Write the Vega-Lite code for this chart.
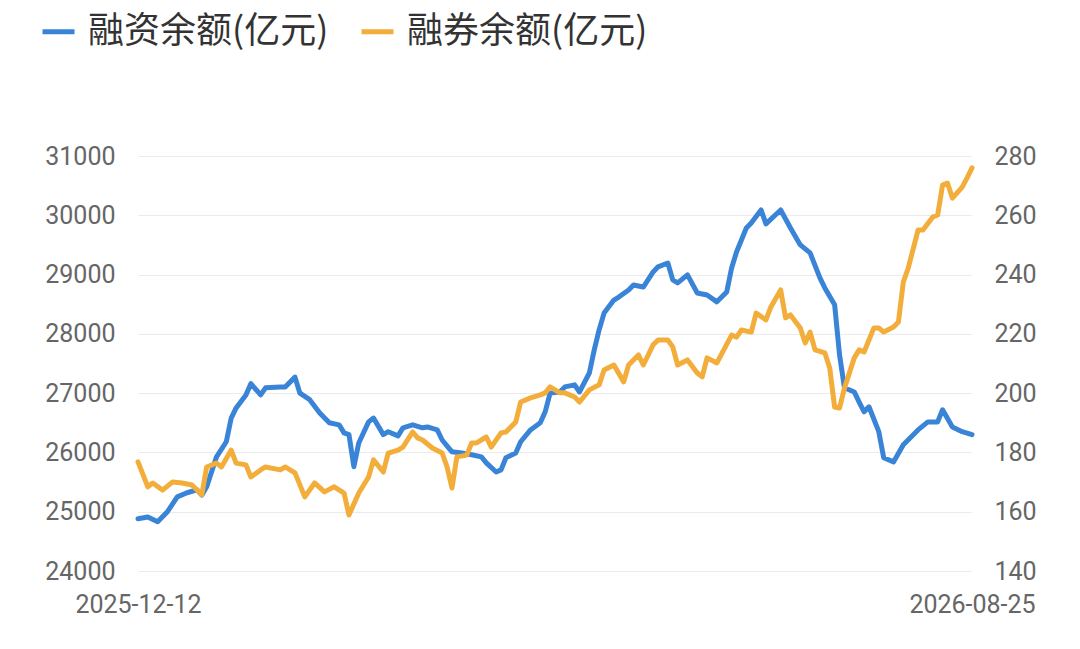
{
  "$schema": "https://vega.github.io/schema/vega-lite/v6.json",
  "width": 834,
  "height": 415,
  "autosize": {"type": "none"},
  "padding": {"left": 138, "top": 156, "right": 108, "bottom": 78},
  "background": "white",
  "config": {
    "view": {"stroke": null},
    "font": "Noto Sans CJK SC",
    "axis": {"labelFont": "Roboto", "labelFontSize": 25, "labelColor": "#666666", "domain": false, "ticks": false, "title": null, "gridColor": "#ebebeb", "gridWidth": 1.2}
  },
  "datasets": {
    "rz": [
      {"t": 0, "v": 24880}, {"t": 2, "v": 24910}, {"t": 4, "v": 24830}, {"t": 6, "v": 25000}, {"t": 8, "v": 25250},
      {"t": 10, "v": 25320}, {"t": 12, "v": 25370}, {"t": 13, "v": 25280}, {"t": 14, "v": 25420}, {"t": 16, "v": 25925},
      {"t": 18, "v": 26180}, {"t": 19, "v": 26580}, {"t": 20, "v": 26750}, {"t": 22, "v": 26970}, {"t": 23, "v": 27160},
      {"t": 25, "v": 26970}, {"t": 26, "v": 27090}, {"t": 29, "v": 27105}, {"t": 30, "v": 27105}, {"t": 32, "v": 27270},
      {"t": 33, "v": 27000}, {"t": 35, "v": 26890}, {"t": 37, "v": 26670}, {"t": 39, "v": 26500}, {"t": 41, "v": 26465},
      {"t": 42, "v": 26330}, {"t": 43, "v": 26300}, {"t": 44, "v": 25760}, {"t": 45, "v": 26160}, {"t": 47, "v": 26515},
      {"t": 48, "v": 26580}, {"t": 50, "v": 26300}, {"t": 51, "v": 26350}, {"t": 53, "v": 26280}, {"t": 54, "v": 26415},
      {"t": 56, "v": 26465}, {"t": 58, "v": 26415}, {"t": 59, "v": 26430}, {"t": 61, "v": 26380}, {"t": 62, "v": 26210},
      {"t": 64, "v": 26010}, {"t": 66, "v": 25990}, {"t": 68, "v": 25960}, {"t": 70, "v": 25925}, {"t": 71, "v": 25825},
      {"t": 73, "v": 25670}, {"t": 74, "v": 25705}, {"t": 75, "v": 25910}, {"t": 77, "v": 25990}, {"t": 78, "v": 26180},
      {"t": 80, "v": 26380}, {"t": 82, "v": 26500}, {"t": 83, "v": 26685}, {"t": 84, "v": 27000}, {"t": 86, "v": 27020},
      {"t": 87, "v": 27105}, {"t": 89, "v": 27140}, {"t": 90, "v": 27020}, {"t": 92, "v": 27340}, {"t": 93, "v": 27730},
      {"t": 94, "v": 28070}, {"t": 95, "v": 28350}, {"t": 97, "v": 28570}, {"t": 98, "v": 28620}, {"t": 100, "v": 28740},
      {"t": 101, "v": 28825}, {"t": 103, "v": 28790}, {"t": 105, "v": 29045}, {"t": 106, "v": 29130}, {"t": 108, "v": 29195},
      {"t": 109, "v": 28910}, {"t": 110, "v": 28860}, {"t": 112, "v": 28995}, {"t": 114, "v": 28690}, {"t": 116, "v": 28655},
      {"t": 118, "v": 28540}, {"t": 120, "v": 28705}, {"t": 121, "v": 29110}, {"t": 122, "v": 29380}, {"t": 124, "v": 29785},
      {"t": 125, "v": 29870}, {"t": 127, "v": 30090}, {"t": 128, "v": 29855}, {"t": 131, "v": 30090}, {"t": 133, "v": 29785},
      {"t": 135, "v": 29500}, {"t": 137, "v": 29365}, {"t": 139, "v": 28945}, {"t": 140, "v": 28775}, {"t": 142, "v": 28490},
      {"t": 143, "v": 27645}, {"t": 144, "v": 27090}, {"t": 146, "v": 27020}, {"t": 147, "v": 26850}, {"t": 148, "v": 26685},
      {"t": 149, "v": 26770}, {"t": 151, "v": 26350}, {"t": 152, "v": 25910}, {"t": 154, "v": 25840}, {"t": 156, "v": 26130},
      {"t": 159, "v": 26380}, {"t": 161, "v": 26515}, {"t": 163, "v": 26515}, {"t": 164, "v": 26720}, {"t": 166, "v": 26430},
      {"t": 168, "v": 26350}, {"t": 170, "v": 26300}
    ],
    "rq": [
      {"t": 0, "v": 176.8}, {"t": 2, "v": 168.4}, {"t": 3, "v": 169.7}, {"t": 5, "v": 167.3}, {"t": 7, "v": 170.0},
      {"t": 9, "v": 169.7}, {"t": 11, "v": 169.0}, {"t": 13, "v": 165.7}, {"t": 14, "v": 175.1}, {"t": 16, "v": 176.4},
      {"t": 17, "v": 175.1}, {"t": 19, "v": 180.8}, {"t": 20, "v": 176.4}, {"t": 22, "v": 175.8}, {"t": 23, "v": 171.7},
      {"t": 25, "v": 174.1}, {"t": 26, "v": 175.1}, {"t": 29, "v": 174.1}, {"t": 30, "v": 175.1}, {"t": 32, "v": 173.1},
      {"t": 34, "v": 165.0}, {"t": 36, "v": 169.7}, {"t": 38, "v": 166.7}, {"t": 40, "v": 168.4}, {"t": 42, "v": 166.3},
      {"t": 43, "v": 158.9}, {"t": 45, "v": 166.3}, {"t": 47, "v": 171.7}, {"t": 48, "v": 177.5}, {"t": 50, "v": 173.4},
      {"t": 51, "v": 179.8}, {"t": 53, "v": 180.8}, {"t": 54, "v": 181.8}, {"t": 56, "v": 186.9}, {"t": 57, "v": 184.9},
      {"t": 58, "v": 184.2}, {"t": 60, "v": 181.5}, {"t": 62, "v": 179.8}, {"t": 63, "v": 175.1}, {"t": 64, "v": 168.0},
      {"t": 65, "v": 178.5}, {"t": 67, "v": 179.1}, {"t": 68, "v": 183.2}, {"t": 69, "v": 183.2}, {"t": 71, "v": 185.2},
      {"t": 72, "v": 181.8}, {"t": 74, "v": 186.6}, {"t": 75, "v": 186.9}, {"t": 77, "v": 190.3}, {"t": 78, "v": 197.0},
      {"t": 80, "v": 198.4}, {"t": 82, "v": 199.4}, {"t": 83, "v": 200.1}, {"t": 84, "v": 202.1}, {"t": 86, "v": 200.1},
      {"t": 87, "v": 200.1}, {"t": 89, "v": 198.7}, {"t": 90, "v": 197.0}, {"t": 92, "v": 201.1}, {"t": 94, "v": 202.8},
      {"t": 95, "v": 207.8}, {"t": 97, "v": 209.5}, {"t": 99, "v": 203.8}, {"t": 100, "v": 209.5}, {"t": 102, "v": 212.9},
      {"t": 103, "v": 209.5}, {"t": 105, "v": 216.3}, {"t": 106, "v": 217.9}, {"t": 108, "v": 217.9}, {"t": 109, "v": 215.6},
      {"t": 110, "v": 209.5}, {"t": 112, "v": 211.2}, {"t": 114, "v": 206.8}, {"t": 115, "v": 205.5}, {"t": 116, "v": 211.9},
      {"t": 118, "v": 210.2}, {"t": 121, "v": 219.6}, {"t": 122, "v": 218.9}, {"t": 123, "v": 221.3}, {"t": 125, "v": 220.6},
      {"t": 126, "v": 227.0}, {"t": 128, "v": 224.7}, {"t": 129, "v": 229.1}, {"t": 131, "v": 234.8}, {"t": 132, "v": 225.4},
      {"t": 133, "v": 226.4}, {"t": 135, "v": 222.0}, {"t": 136, "v": 216.9}, {"t": 137, "v": 220.6}, {"t": 138, "v": 214.6},
      {"t": 140, "v": 213.6}, {"t": 141, "v": 208.5}, {"t": 142, "v": 195.3}, {"t": 143, "v": 195.0}, {"t": 144, "v": 201.7},
      {"t": 146, "v": 211.9}, {"t": 147, "v": 214.6}, {"t": 148, "v": 213.9}, {"t": 150, "v": 222.0}, {"t": 151, "v": 222.0},
      {"t": 152, "v": 220.6}, {"t": 154, "v": 222.3}, {"t": 155, "v": 224.0}, {"t": 156, "v": 237.5}, {"t": 157, "v": 242.2},
      {"t": 159, "v": 255.0}, {"t": 160, "v": 255.0}, {"t": 162, "v": 259.4}, {"t": 163, "v": 260.1}, {"t": 164, "v": 270.2},
      {"t": 165, "v": 270.9}, {"t": 166, "v": 265.8}, {"t": 168, "v": 269.5}, {"t": 169, "v": 272.6}, {"t": 170, "v": 276.0}
    ]
  },
  "layer": [
    {
      "data": {"name": "rz"},
      "mark": {"type": "line", "strokeWidth": 5, "strokeJoin": "round", "strokeCap": "round"},
      "encoding": {
        "x": {
          "field": "t", "type": "quantitative",
          "scale": {"domain": [0, 170], "nice": false, "zero": false},
          "axis": {"values": [0, 170], "grid": false, "labelPadding": 21, "labelAlign": "center", "labelFlush": false, "labelOverlap": false,
                   "labelExpr": "datum.value == 0 ? '2025-12-12' : '2026-08-25'"}
        },
        "y": {
          "field": "v", "type": "quantitative",
          "scale": {"domain": [24000, 31000], "nice": false, "zero": false},
          "axis": {"orient": "left", "values": [24000, 25000, 26000, 27000, 28000, 29000, 30000, 31000], "format": "d", "grid": true, "labelPadding": 23}
        },
        "color": {
          "datum": "融资余额(亿元)", "type": "nominal",
          "scale": {"domain": ["融资余额(亿元)", "融券余额(亿元)"], "range": ["#3a84d8", "#f2ad3b"]},
          "legend": {"orient": "none", "legendX": -98, "legendY": -143, "direction": "horizontal", "title": null,
                     "symbolType": "stroke", "symbolSize": 1024, "symbolStrokeWidth": 5, "labelFontSize": 36,
                     "labelColor": "#333333", "labelOffset": 11, "columnPadding": 22, "labelFont": "Noto Sans CJK SC", "labelLimit": 400}
        }
      }
    },
    {
      "data": {"name": "rq"},
      "mark": {"type": "line", "strokeWidth": 5, "strokeJoin": "round", "strokeCap": "round"},
      "encoding": {
        "x": {"field": "t", "type": "quantitative"},
        "y": {
          "field": "v", "type": "quantitative",
          "scale": {"domain": [140, 280], "nice": false, "zero": false},
          "axis": {"orient": "right", "values": [140, 160, 180, 200, 220, 240, 260, 280], "format": "d", "grid": false, "labelPadding": 22}
        },
        "color": {"datum": "融券余额(亿元)", "type": "nominal"}
      }
    }
  ],
  "resolve": {"scale": {"y": "independent"}}
}
